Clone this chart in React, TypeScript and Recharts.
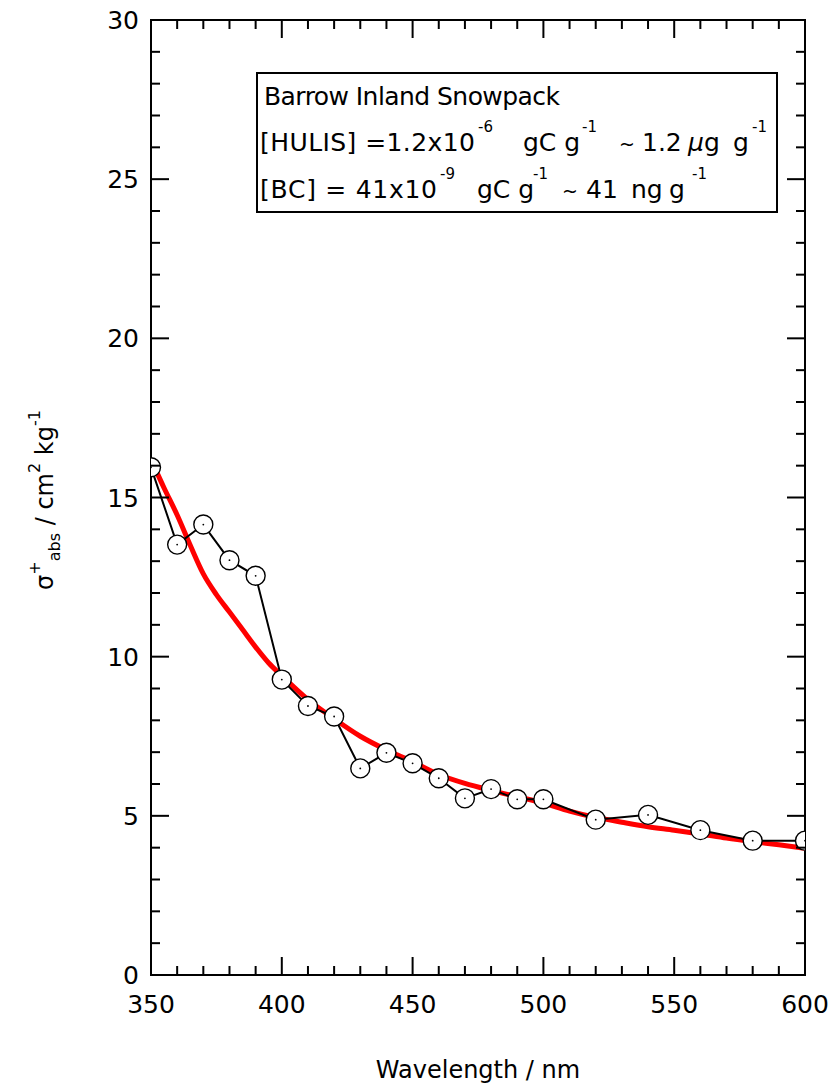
import React from 'react';
import { LineChart, Line, XAxis, YAxis, ReferenceArea } from 'recharts';

// measured absorption (open circles)
const wavelength = [350, 360, 370, 380, 390, 400, 410, 420, 430, 440, 450, 460, 470, 480, 490, 500, 520, 540, 560, 580, 600];
const sigmaAbs = [15.95, 13.52, 14.15, 13.03, 12.54, 9.28, 8.45, 8.12, 6.49, 6.98, 6.65, 6.18, 5.55, 5.84, 5.52, 5.52, 4.88, 5.03, 4.55, 4.22, 4.22];

// red model curve
const fitWavelength = [350, 355, 360, 365, 370, 375, 380, 385, 390, 395, 400, 410, 420, 430, 440, 450, 460, 470, 480, 490, 500, 510, 520, 530, 540, 550, 560, 570, 580, 590, 600];
const fitSigma = [16.2, 15.3, 14.45, 13.5, 12.6, 11.95, 11.4, 10.85, 10.3, 9.8, 9.4, 8.65, 8.05, 7.5, 7.07, 6.7, 6.3, 6.02, 5.8, 5.6, 5.4, 5.15, 4.95, 4.8, 4.66, 4.55, 4.43, 4.3, 4.19, 4.09, 3.98];

// ticks
const xTicks = [350, 360, 370, 380, 390, 400, 410, 420, 430, 440, 450, 460, 470, 480, 490, 500, 510, 520, 530, 540, 550, 560, 570, 580, 590, 600];
const yTicks = [0, 1, 2, 3, 4, 5, 6, 7, 8, 9, 10, 11, 12, 13, 14, 15, 16, 17, 18, 19, 20, 21, 22, 23, 24, 25, 26, 27, 28, 29, 30];

const measured = wavelength.map((w, i) => ({ w, v: sigmaAbs[i] }));
const fit = fitWavelength.map((w, i) => ({ w, v: fitSigma[i] }));

// the chart is pinned to the page corner, so these are page pixels
const W = 836;
const H = 1090;
const PLOT_LEFT = 151;
const PLOT_RIGHT = 805;
const PLOT_TOP = 20;
const PLOT_BOTTOM = 975;
const FONT = '"DejaVu Sans", sans-serif';

const XTick = (props: any) => {
  const { x, payload } = props;
  const major = payload.value % 50 === 0;
  const len = major ? 18 : 9;
  return (
    <g>
      <line x1={x} x2={x} y1={PLOT_BOTTOM} y2={PLOT_BOTTOM - len} stroke="#000" strokeWidth={2} />
      <line x1={x} x2={x} y1={PLOT_TOP} y2={PLOT_TOP + len} stroke="#000" strokeWidth={2} />
      {major && (
        <text x={x} y={PLOT_BOTTOM + 38} textAnchor="middle" fontSize={25} fontFamily={FONT} fill="#000">
          {payload.value}
        </text>
      )}
    </g>
  );
};

const YTick = (props: any) => {
  const { y, payload } = props;
  const major = payload.value % 5 === 0;
  const len = major ? 18 : 9;
  return (
    <g>
      <line x1={PLOT_LEFT} x2={PLOT_LEFT + len} y1={y} y2={y} stroke="#000" strokeWidth={2} />
      <line x1={PLOT_RIGHT} x2={PLOT_RIGHT - len} y1={y} y2={y} stroke="#000" strokeWidth={2} />
      {major && (
        <text x={PLOT_LEFT - 12} y={y} dy="0.36em" textAnchor="end" fontSize={25} fontFamily={FONT} fill="#000">
          {payload.value}
        </text>
      )}
    </g>
  );
};

const CircleDot = (props: any) => {
  const { cx, cy, index } = props;
  if (cx == null || cy == null) return null;
  return (
    <g key={`d${index}`}>
      <circle cx={cx} cy={cy} r={9.5} fill="#fff" stroke="#000" strokeWidth={1.4} />
      <circle cx={cx} cy={cy} r={0.9} fill="#000" />
    </g>
  );
};

const InfoBox = () => {
  const fs = 25;
  const sup = { fontSize: 15 };
  const up = -19;
  return (
    <g fontFamily={FONT} fill="#000">
      <rect x={257} y={73} width={520} height={139} fill="#fff" stroke="#000" strokeWidth={2} />
      <text x={264} y={105} fontSize={fs} textLength={296} lengthAdjust="spacing">Barrow Inland Snowpack</text>
      <text y={151} fontSize={fs}>
        <tspan x={260} textLength={215} lengthAdjust="spacing">[HULIS] =1.2x10</tspan>
        <tspan x={478} dy={up} {...sup}>-6</tspan>
        <tspan x={523} dy={-up}>gC g</tspan>
        <tspan x={582} dy={up} {...sup}>-1</tspan>
        <tspan x={619} dy={-up} fontSize={19}>~</tspan>
        <tspan x={642}>1.2</tspan>
        <tspan x={688} fontStyle="italic">μ</tspan>
        <tspan>g</tspan>
        <tspan x={733}>g</tspan>
        <tspan x={752} dy={up} {...sup}>-1</tspan>
      </text>
      <text y={198} fontSize={fs}>
        <tspan x={260} textLength={177} lengthAdjust="spacing">[BC] = 41x10</tspan>
        <tspan x={440} dy={up} {...sup}>-9</tspan>
        <tspan x={477} dy={-up}>gC g</tspan>
        <tspan x={533} dy={up} {...sup}>-1</tspan>
        <tspan x={562} dy={-up} fontSize={19}>~</tspan>
        <tspan x={586}>41</tspan>
        <tspan x={631}>ng</tspan>
        <tspan x={669}>g</tspan>
        <tspan x={692} dy={up} {...sup}>-1</tspan>
      </text>
    </g>
  );
};

const AxisTitles = () => (
  <g fontFamily={FONT} fill="#000">
    <text x={(PLOT_LEFT + PLOT_RIGHT) / 2} y={1078} textAnchor="middle" fontSize={24}>
      Wavelength / nm
    </text>
    <text transform={`translate(53, 500) rotate(-90)`} textAnchor="middle" fontSize={24}>
      <tspan>σ</tspan>
      <tspan fontSize={16} dy={-13}>+</tspan>
      <tspan fontSize={16} dy={20}>abs</tspan>
      <tspan dy={-7}> / cm</tspan>
      <tspan fontSize={16} dy={-13}>2</tspan>
      <tspan dy={13}> kg</tspan>
      <tspan fontSize={16} dy={-13}>-1</tspan>
    </text>
  </g>
);

export default function App() {
  return (
    <div style={{ width: W, height: H, position: 'absolute', left: 0, top: 0 }}>
      <LineChart width={W} height={H} margin={{ top: PLOT_TOP, right: W - PLOT_RIGHT, bottom: H - PLOT_BOTTOM - 60, left: PLOT_LEFT - 100 }}>
        <XAxis
          dataKey="w"
          type="number"
          domain={[350, 600]}
          ticks={xTicks}
          interval={0}
          tick={<XTick />}
          tickLine={false}
          axisLine={false}
          height={60}
          allowDataOverflow
        />
        <YAxis
          type="number"
          domain={[0, 30]}
          ticks={yTicks}
          interval={0}
          tick={<YTick />}
          tickLine={false}
          axisLine={false}
          width={100}
          allowDataOverflow
        />
        <ReferenceArea x1={350} x2={600} y1={0} y2={30} fill="none" stroke="#000" strokeWidth={2} ifOverflow="visible" />
        <Line data={fit} dataKey="v" type="monotone" stroke="#ff0000" strokeWidth={5} dot={false} activeDot={false} isAnimationActive={false} />
        <Line data={measured} dataKey="v" type="linear" stroke="#000" strokeWidth={2} dot={<CircleDot />} activeDot={false} isAnimationActive={false} />
      </LineChart>
      <svg width={W} height={H} style={{ position: 'absolute', left: 0, top: 0, pointerEvents: 'none' }}>
        <InfoBox />
        <AxisTitles />
      </svg>
    </div>
  );
}
